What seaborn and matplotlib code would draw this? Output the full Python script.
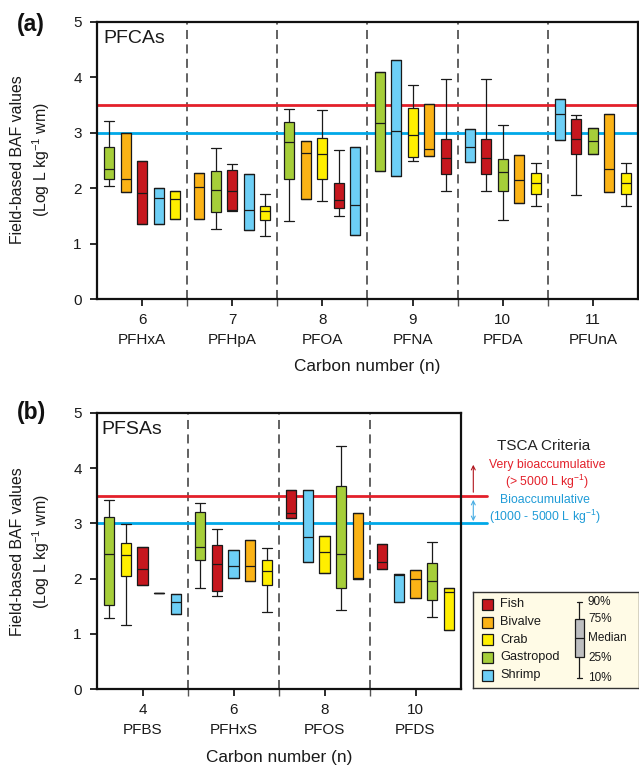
import numpy as np
import pandas as pd
import matplotlib
matplotlib.use("Agg")
import matplotlib.pyplot as plt
import seaborn as sns
from matplotlib.patches import Rectangle

# ---------------- data ----------------
species_order = ["Fish", "Bivalve", "Crab", "Gastropod", "Shrimp"]
species_colors = ["#C6171E", "#FBB316", "#FFEF00", "#A6CE39", "#6DCFF6"]

very_bioacc = 3.5   # log BAF threshold (red line)
bioacc = 3.0        # log BAF threshold (blue line)

# Panel (a): PFCAs
a_groups = ["PFHxA", "PFHpA", "PFOA", "PFNA", "PFDA", "PFUnA"]
a_carbon = ["6", "7", "8", "9", "10", "11"]
a_compound = (["PFHxA"] * 5 + ["PFHpA"] * 5 + ["PFOA"] * 5 +
              ["PFNA"] * 5 + ["PFDA"] * 5 + ["PFUnA"] * 5)
a_species = ["Gastropod", "Bivalve", "Fish", "Shrimp", "Crab",
             "Bivalve", "Gastropod", "Fish", "Shrimp", "Crab",
             "Gastropod", "Bivalve", "Crab", "Fish", "Shrimp",
             "Gastropod", "Shrimp", "Crab", "Bivalve", "Fish",
             "Shrimp", "Fish", "Gastropod", "Bivalve", "Crab",
             "Shrimp", "Fish", "Gastropod", "Bivalve", "Crab"]
a_p10 = [2.03, 1.93, 1.35, 1.35, 1.45,
         1.44, 1.27, 1.59, 1.25, 1.13,
         1.40, 1.80, 1.76, 1.50, 1.15,
         2.30, 2.21, 2.48, 2.58, 1.95,
         2.47, 1.95, 1.43, 1.73, 1.68,
         2.86, 1.87, 2.62, 1.93, 1.68]
a_q1 = [2.16, 1.93, 1.35, 1.35, 1.45,
        1.44, 1.57, 1.61, 1.25, 1.42,
        2.17, 1.80, 2.16, 1.64, 1.15,
        2.30, 2.21, 2.56, 2.58, 2.26,
        2.47, 2.26, 1.94, 1.73, 1.90,
        2.86, 2.61, 2.62, 1.93, 1.90]
a_med = [2.35, 2.16, 1.91, 1.83, 1.80,
         2.02, 1.96, 1.94, 1.61, 1.58,
         2.83, 2.64, 2.62, 1.78, 1.69,
         3.18, 3.03, 2.95, 2.70, 2.54,
         2.74, 2.54, 2.29, 2.15, 2.10,
         3.33, 2.88, 2.84, 2.35, 2.10]
a_q3 = [2.74, 3.00, 2.49, 2.00, 1.95,
        2.27, 2.30, 2.32, 2.25, 1.68,
        3.19, 2.85, 2.90, 2.10, 2.74,
        4.10, 4.31, 3.44, 3.51, 2.88,
        3.06, 2.88, 2.53, 2.59, 2.27,
        3.60, 3.24, 3.08, 3.33, 2.27]
a_p90 = [3.21, 3.00, 2.49, 2.00, 1.95,
         2.27, 2.72, 2.43, 2.25, 1.89,
         3.42, 2.85, 3.40, 2.68, 2.74,
         4.10, 4.31, 3.85, 3.51, 3.96,
         3.06, 3.96, 3.13, 2.59, 2.46,
         3.60, 3.31, 3.08, 3.33, 2.46]

# Panel (b): PFSAs
b_groups = ["PFBS", "PFHxS", "PFOS", "PFDS"]
b_carbon = ["4", "6", "8", "10"]
b_compound = ["PFBS"] * 5 + ["PFHxS"] * 5 + ["PFOS"] * 5 + ["PFDS"] * 5
b_species = ["Gastropod", "Crab", "Fish", "Bivalve", "Shrimp",
             "Gastropod", "Fish", "Shrimp", "Bivalve", "Crab",
             "Fish", "Shrimp", "Crab", "Gastropod", "Bivalve",
             "Fish", "Shrimp", "Bivalve", "Gastropod", "Crab"]
b_p10 = [1.29, 1.17, 1.89, 1.74, 1.36,
         1.84, 1.69, 2.01, 1.96, 1.40,
         3.10, 2.30, 2.11, 1.43, 2.00,
         2.18, 1.58, 1.65, 1.31, 1.08]
b_q1 = [1.52, 2.04, 1.89, 1.74, 1.36,
        2.33, 1.77, 2.01, 1.96, 1.89,
        3.10, 2.30, 2.11, 1.83, 2.00,
        2.18, 1.58, 1.65, 1.61, 1.08]
b_med = [2.44, 2.42, 2.18, 1.74, 1.57,
         2.57, 2.27, 2.22, 2.22, 2.13,
         3.18, 2.75, 2.48, 2.44, 2.02,
         2.31, 2.07, 1.99, 1.95, 1.75]
b_q3 = [3.11, 2.64, 2.58, 1.74, 1.72,
        3.20, 2.60, 2.52, 2.69, 2.34,
        3.60, 3.61, 2.78, 3.68, 3.18,
        2.63, 2.09, 2.16, 2.28, 1.84]
b_p90 = [3.42, 2.99, 2.58, 1.74, 1.72,
         3.36, 2.90, 2.52, 2.69, 2.55,
         3.60, 3.61, 2.78, 4.40, 3.18,
         2.63, 2.09, 2.16, 2.67, 1.84]

# ---------------- layout helpers ----------------
W, H = 639, 768
def fx(x):
    return x / W
def fy(y):
    return 1 - y / H

SPACING = 0.183     # distance between boxes within a group (group width = 1)
BOX_W = 0.112

sns.set_theme(style="ticks")
plt.rcParams["font.family"] = ["Liberation Sans", "DejaVu Sans"]
plt.rcParams["mathtext.default"] = "regular"

palette = dict(zip(species_order, species_colors))


def build(groups, compound, species, p10, q1, med, q3, p90):
    rows = []
    counter = {}
    for c, s, *vals in zip(compound, species, p10, q1, med, q3, p90):
        g = groups.index(c)
        k = counter.get(c, 0)
        counter[c] = k + 1
        pos = round(g + (k - 2) * SPACING, 6)
        for v in vals:
            rows.append(dict(pos=pos, species=s, value=v))
    return pd.DataFrame(rows)


def draw_panel(ax, groups, carbon, df, label):
    n = len(groups)
    sns.boxplot(data=df, x="pos", y="value", hue="species",
                hue_order=species_order, palette=palette,
                native_scale=True, dodge=False, width=BOX_W / SPACING,
                whis=(0, 100), saturation=1, linecolor="#1a1a1a",
                linewidth=0.9, legend=False, ax=ax, capwidths=BOX_W)
    for b in np.arange(0.5, n - 0.5, 1.0):
        ax.axvline(b, color="#555555", lw=1.3, dashes=(5, 3), zorder=0.5)
    ax.axhline(very_bioacc, color="#E3202A", lw=2, zorder=0.6)
    ax.axhline(bioacc, color="#00A8E8", lw=2, zorder=0.6)
    ax.set_xlim(-0.5, n - 0.5)
    ax.set_ylim(0, 5)
    ax.set_yticks(range(6))
    ax.set_xticks(range(n))
    ax.set_xticklabels([f"{c}\n{g}" for c, g in zip(carbon, groups)],
                       fontsize=11, linespacing=1.55)
    ax.set_xticks(np.arange(0.5, n - 0.5, 1.0), minor=True)
    ax.tick_params(axis="y", labelsize=11, direction="out", length=5,
                   width=1.3, pad=6, colors="#1a1a1a")
    ax.tick_params(axis="x", which="major", direction="out", length=5,
                   width=1.3, pad=5, colors="#1a1a1a")
    ax.tick_params(axis="x", which="minor", direction="out", length=5,
                   width=1.0, color="#555555")
    for sp in ax.spines.values():
        sp.set_visible(True)
        sp.set_linewidth(1.6)
        sp.set_color("#111111")
    ax.set_xlabel("Carbon number (n)", fontsize=12.4, labelpad=9,
                  color="#1a1a1a")
    ax.set_ylabel("")
    ax.text(0.012, 0.94, label, transform=ax.transAxes, fontsize=14,
            ha="left", va="center", color="#1a1a1a")


fig = plt.figure(figsize=(W / 100, H / 100), dpi=100)
fig.patch.set_facecolor("white")

ax_a = fig.add_axes([fx(97), fy(299), fx(638) - fx(97), fy(21.7) - fy(299)])
ax_b = fig.add_axes([fx(97), fy(689.3), fx(461) - fx(97), fy(412.7) - fy(689.3)])

df_a = build(a_groups, a_compound, a_species, a_p10, a_q1, a_med, a_q3, a_p90)
df_b = build(b_groups, b_compound, b_species, b_p10, b_q1, b_med, b_q3, b_p90)
draw_panel(ax_a, a_groups, a_carbon, df_a, "PFCAs")
draw_panel(ax_b, b_groups, b_carbon, df_b, "PFSAs")

# threshold lines of panel (b) extend beyond the axes
ext = (487 - 97) / (461 - 97)
ax_b.axhline(very_bioacc, xmin=1, xmax=ext, color="#E3202A", lw=2, clip_on=False)
ax_b.axhline(bioacc, xmin=1, xmax=ext, color="#00A8E8", lw=2, clip_on=False)

# panel letters and y labels
for ytop, letter, yc in [(24, "(a)", 160), (413, "(b)", 552)]:
    fig.text(fx(31), fy(ytop), letter, fontsize=16.5, fontweight="bold",
             ha="center", va="center", color="#111111")
    fig.text(fx(31), fy(yc),
             "Field-based BAF values\n(Log L kg$^{-1}$ wm)",
             rotation=90, fontsize=11.4, ha="center", va="center",
             multialignment="center", linespacing=1.32, color="#1a1a1a")

# TSCA criteria annotation
fig.text(fx(544), fy(446), "TSCA Criteria", fontsize=11, ha="center",
         va="center", color="#222222")
fig.text(fx(547), fy(475), "Very bioaccumulative\n(> 5000 L kg$^{-1}$)",
         fontsize=8.8, ha="center", va="center", color="#E3202A",
         linespacing=1.15)
fig.text(fx(545), fy(510), "Bioaccumulative\n(1000 - 5000 L kg$^{-1}$)",
         fontsize=8.8, ha="center", va="center", color="#1E9BD7",
         linespacing=1.15)
fig.add_artist(matplotlib.patches.FancyArrowPatch(
    (fx(473.3), fy(495)), (fx(473.3), fy(462)), transform=fig.transFigure,
    arrowstyle="->", mutation_scale=7, color="#B0141C", lw=0.8))
fig.add_artist(matplotlib.patches.FancyArrowPatch(
    (fx(473.3), fy(497)), (fx(473.3), fy(524)), transform=fig.transFigure,
    arrowstyle="<->", mutation_scale=7, color="#4AAEE3", lw=0.8))

# legend panel
lg = fig.add_axes([fx(473), fy(688), fx(638.5) - fx(473), fy(592) - fy(688)])
lg.set_facecolor("#FFFBE6")
lg.set_xlim(0, 165.5)
lg.set_ylim(96, 0)
lg.set_xticks([])
lg.set_yticks([])
for sp in lg.spines.values():
    sp.set_color("#333333")
    sp.set_linewidth(1.0)
row_y = [12, 30, 47.7, 65, 83]
for name, col, yy in zip(species_order, species_colors, row_y):
    lg.add_patch(Rectangle((9, yy - 5.5), 11, 11, facecolor=col,
                           edgecolor="#1a1a1a", lw=0.9))
    lg.text(27, yy, name, fontsize=9.2, va="center", ha="left",
            color="#1a1a1a")
cx = 106
lg.plot([cx, cx], [9.7, 85.7], color="#1a1a1a", lw=0.9)
lg.plot([cx - 2.5, cx + 2.5], [9.7, 9.7], color="#1a1a1a", lw=0.9)
lg.plot([cx - 2.5, cx + 2.5], [85.7, 85.7], color="#1a1a1a", lw=0.9)
lg.add_patch(Rectangle((cx - 4.5, 27.3), 9, 38, facecolor="#BDBEC0",
                       edgecolor="#1a1a1a", lw=0.9, zorder=3))
lg.plot([cx - 4.5, cx + 4.5], [46.3, 46.3], color="#1a1a1a", lw=0.9, zorder=4)
for txt, yy in [("90%", 9.7), ("75%", 27.5), ("Median", 46.3),
                ("25%", 66), ("10%", 85.7)]:
    lg.text(115, yy, txt, fontsize=8.5, va="center", ha="left",
            color="#1a1a1a")

fig.savefig("out.png", dpi=100)
